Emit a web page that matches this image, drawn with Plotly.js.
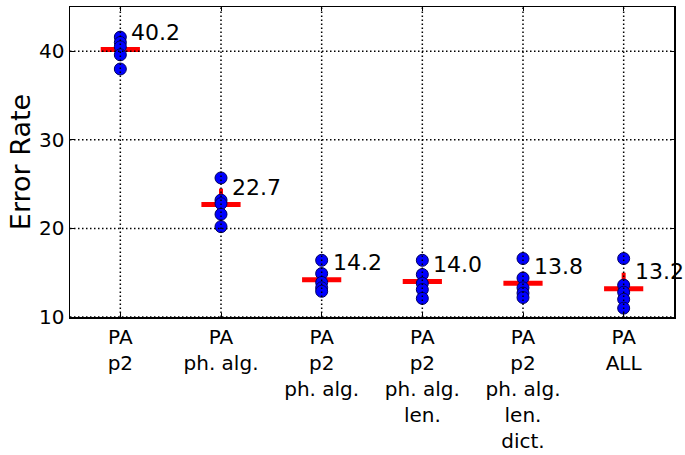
<!DOCTYPE html>
<html>
<head>
<meta charset="utf-8">
<script src="https://cdn.plot.ly/plotly-3.0.1.min.js"></script>
<style>html,body{margin:0;padding:0;background:#fff;}#chart{width:685px;height:455px;}</style>
</head>
<body>
<div id="chart"></div>
<script>
const categories = ["PA<br>p2", "PA<br>ph. alg.", "PA<br>p2<br>ph. alg.", "PA<br>p2<br>ph. alg.<br>len.", "PA<br>p2<br>ph. alg.<br>len.<br>dict.", "PA<br>ALL"];
const runs = [
  [41.6, 41.0, 40.5, 39.6, 38.0],
  [25.7, 23.2, 22.8, 21.6, 20.2],
  [16.4, 14.9, 13.9, 13.3, 12.9],
  [16.4, 14.8, 13.8, 13.1, 12.1],
  [16.6, 14.4, 13.3, 12.7, 12.2],
  [16.6, 13.6, 12.8, 12.0, 11.0]
];
const means = [40.2, 22.7, 14.2, 14.0, 13.8, 13.2];
const errs = [1.2, 1.8, 1.3, 1.4, 1.3, 1.8];
const yTicks = [10, 20, 30, 40];

const idx = categories.map((c, i) => i);
const ptX = [], ptY = [];
runs.forEach((r, i) => r.forEach(v => { ptX.push(i); ptY.push(v); }));

const font = "DejaVu Sans, sans-serif";
const dotDash = "1.5px,2.5px";

const traces = [
  {
    type: "scatter", mode: "markers", x: idx, y: means,
    marker: {symbol: "line-ew", size: 28, color: "red", line: {color: "red", width: 5}},
    error_y: {type: "data", array: errs, visible: true, color: "red", thickness: 4, width: 0},
    hoverinfo: "skip"
  },
  {
    type: "scatter", mode: "markers", x: ptX, y: ptY,
    marker: {symbol: "circle", size: 12, color: "#0000ff", line: {color: "#000060", width: 1}},
    hoverinfo: "skip"
  }
];

const shapes = [];
idx.forEach(i => shapes.push({type: "line", layer: "above", xref: "x", yref: "paper", x0: i, x1: i, y0: 0, y1: 1,
  line: {color: "black", width: 1.5, dash: dotDash}}));
yTicks.forEach(v => shapes.push({type: "line", layer: "above", xref: "paper", yref: "y", x0: 0, x1: 1, y0: v, y1: v,
  line: {color: "black", width: 1.5, dash: dotDash}}));

const annotations = idx.map(i => ({
  x: i, y: means[i], xref: "x", yref: "y", text: means[i].toFixed(1), showarrow: false,
  xanchor: "left", yanchor: "middle", xshift: 9, yshift: 17,
  font: {family: font, size: 22, color: "black"}
}));

const layout = {
  width: 685, height: 455,
  margin: {l: 70, r: 11, t: 7, b: 138, pad: 0},
  paper_bgcolor: "white", plot_bgcolor: "white",
  showlegend: false,
  font: {family: font, color: "black"},
  xaxis: {
    type: "linear", range: [-0.5, 5.5], tickvals: idx, ticktext: categories,
    showgrid: false, zeroline: false, showline: true, linecolor: "black", linewidth: 1.5, mirror: "ticks",
    ticks: "inside", ticklen: 4, tickcolor: "black", tickfont: {family: font, size: 20, color: "black"},
    ticklabelstandoff: 1,
    fixedrange: true
  },
  yaxis: {
    range: [10, 45], tickvals: yTicks, showgrid: false, zeroline: false,
    showline: true, linecolor: "black", linewidth: 1.5, mirror: "ticks",
    ticks: "inside", ticklen: 4, tickcolor: "black", tickfont: {family: font, size: 20, color: "black"},
    title: {text: "Error Rate", font: {family: font, size: 27, color: "black"}, standoff: 0},
    automargin: false, fixedrange: true
  },
  shapes: shapes,
  annotations: annotations
};

Plotly.newPlot("chart", traces, layout, {displayModeBar: false, staticPlot: true});
</script>
</body>
</html>
